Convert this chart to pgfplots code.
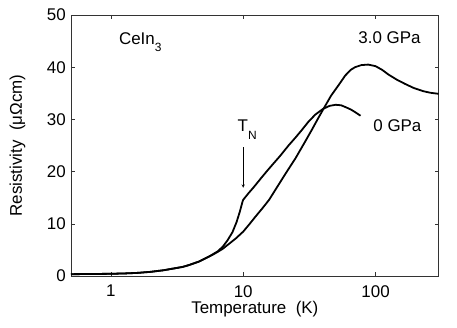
\documentclass[border=0pt]{standalone}
\usepackage{fontspec}
\setmainfont{Liberation Sans}
\usepackage{pgfplots}
\pgfplotsset{compat=1.18}
\begin{document}
\begin{tikzpicture}
\begin{axis}[
  name=ax,
  scale only axis,
  width=367.7bp, height=261bp,
  xmode=log,
  xmin=0.5, xmax=300,
  ymin=0, ymax=50,
  xtick={1,10,100},
  xticklabels={1,10,100},
  ytick={0,10,20,30,40,50},
  minor x tick num=0,
  xminorticks=false,
  tick align=inside,
  major tick length=4bp,
  tick style={black!80, line width=0.5pt},
  axis line style={black!80, line width=0.6pt},
  /pgf/number format/assume math mode=true,
  tick label style={font=\fontsize{17}{20}\selectfont},
  label style={font=\fontsize{17}{20}\selectfont},
  xticklabel style={inner sep=0pt, anchor=north, yshift=-9bp},
  yticklabel style={inner sep=0pt, anchor=east, xshift=-5bp},
  xlabel={Temperature~~(K)},
  ylabel={Resistivity~~(μΩcm)},
  xlabel style={at={(axis description cs:0.5,-0.1418)}, anchor=base, inner sep=0pt},
  ylabel style={at={(axis description cs:-0.1455,0.5)}, anchor=center, inner sep=0pt},
  clip=true,
]
\addplot[black, line width=1.8pt] coordinates {
(0.5,0.35) (0.7,0.38) (1.0,0.42) (1.3,0.5) (1.6,0.6) (2.0,0.8) (2.5,1.1)
(3.0,1.45) (3.5,1.75) (3.9,2.1) (4.67,2.8) (5.5,3.7) (6.4,4.7) (7.0,5.6)
(7.6,6.8) (8.3,8.4) (8.9,10.3) (9.4,12.2) (9.9,14.3) (10.0,14.6) (11,15.9)
(12,17.0) (13.5,18.6) (15,20.0) (17,21.6) (19,23.0) (22,25.0) (25,26.6)
(27.8,28.0) (31,29.5) (35,30.9) (40,32.0) (45,32.6) (50,32.8) (55,32.7)
(60,32.3) (65,31.9) (70,31.4) (77,30.7)
};
\addplot[black, line width=1.8pt] coordinates {
(0.5,0.35) (0.7,0.38) (1.0,0.42) (1.3,0.5) (1.6,0.6) (2.0,0.8) (2.5,1.1)
(3.0,1.45) (3.5,1.75) (3.9,2.1) (4.67,2.8) (5.5,3.7) (6.0,4.2) (6.4,4.6)
(7.0,5.2) (7.85,6.2) (8.8,7.2) (10,8.5) (11.2,10.0) (12.5,11.5) (14,13.0)
(15.7,14.6) (18,17.0) (21,19.7) (24.9,22.6) (29,25.5) (33,28.0) (37,30.3)
(40.6,32.1) (46,34.5) (52.7,36.6) (59,38.4) (65,39.5) (70,40.0) (78,40.4)
(88,40.5) (100,40.2) (112,39.5) (125,38.6) (145,37.6) (167,36.8) (195,36.0)
(230,35.4) (260,35.1) (300,34.9)
};
\node[anchor=base west, inner sep=0pt, font=\fontsize{17}{20}\selectfont]
  at (axis cs:1.15,44.3) {CeIn\raisebox{-7bp}{\fontsize{12}{12}\selectfont 3}};
\node[anchor=base west, inner sep=0pt, font=\fontsize{17}{20}\selectfont]
  at (axis cs:74,44.6) {3.0 GPa};
\node[anchor=base west, inner sep=0pt, font=\fontsize{17}{20}\selectfont]
  at (axis cs:96,27.6) {0 GPa};
\node[anchor=base west, inner sep=0pt, font=\fontsize{17}{20}\selectfont]
  at (axis cs:9.06,27.6) {T\raisebox{-8bp}{\fontsize{12}{12}\selectfont N}};
\draw[->, >=stealth, line width=0.5pt] (axis cs:10,24.7) -- (axis cs:10,16.9);
\end{axis}
\pgfresetboundingbox
\path[use as bounding box] (ax.south west) ++(-71bp,-52bp) rectangle ([xshift=18.3bp,yshift=15bp]ax.north east);
\end{tikzpicture}
\end{document}
